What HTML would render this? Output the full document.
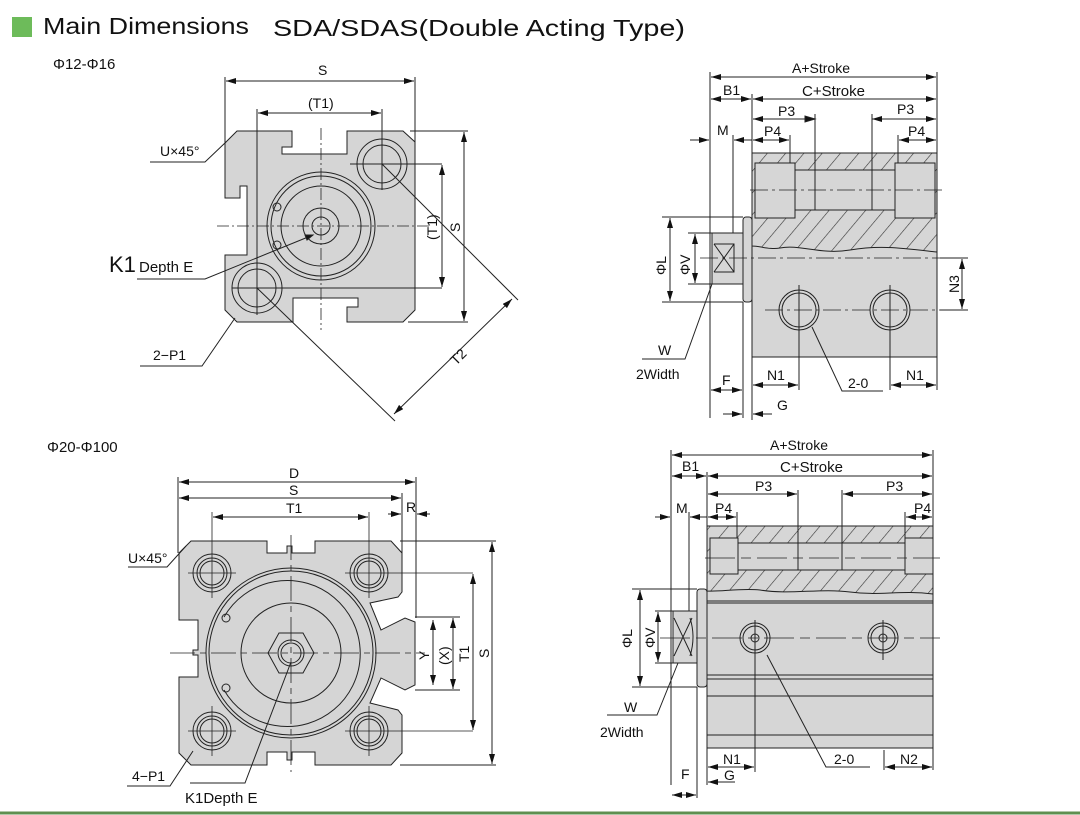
<!DOCTYPE html>
<html><head><meta charset="utf-8"><style>
html,body{margin:0;padding:0;background:#fff;width:1080px;height:815px;overflow:hidden}
svg{display:block}
text{font-family:"Liberation Sans",sans-serif;fill:#111}
.d{font-size:14px}
</style></head><body>
<svg width="1080" height="815" viewBox="0 0 1080 815" xmlns="http://www.w3.org/2000/svg">
<defs>
<marker id="a" viewBox="0 0 10 6" refX="10" refY="3" markerWidth="10" markerHeight="6" orient="auto-start-reverse" markerUnits="userSpaceOnUse"><path d="M0,0L10,3L0,6z" fill="#111"/></marker>
<pattern id="h" width="14" height="14" patternUnits="userSpaceOnUse" patternTransform="rotate(40)"><rect width="14" height="14" fill="#d6d6d6"/><line x1="0" y1="0" x2="0" y2="14" stroke="#333" stroke-width="1.2"/></pattern>
</defs>

<!-- title -->
<rect x="12" y="17" width="20" height="20" fill="#6dbb5a"/>
<text x="43" y="34" font-size="23" textLength="206" lengthAdjust="spacingAndGlyphs">Main Dimensions</text>
<text x="273" y="36" font-size="23" textLength="412" lengthAdjust="spacingAndGlyphs">SDA/SDAS(Double  Acting  Type)</text>
<text x="53" y="69" font-size="15">Φ12-Φ16</text>
<text x="47" y="452" font-size="15">Φ20-Φ100</text>
<line x1="0" y1="813" x2="1080" y2="813" stroke="#5f8f50" stroke-width="3"/>

<g stroke="#222" stroke-width="1" fill="none">
<!-- ========== TOP LEFT ========== -->
<path d="M237,131 L292,131 L292,147 L282,147 L282,154 L347,154 L347,131 L403,131 L415,142 L415,310 L403,322 L347,322 L347,307 L358,307 L358,298 L293,298 L293,322 L237,322 L225,310 L225,255 L247,255 L247,186 L240,186 L240,198 L225,198 L225,143 Z" fill="#d5d5d5"/>
<circle cx="321" cy="226" r="54"/><circle cx="321" cy="226" r="50"/><circle cx="321" cy="226" r="40"/>
<circle cx="321" cy="226" r="18"/><circle cx="321" cy="226" r="9"/>
<circle cx="277" cy="207" r="4"/><circle cx="277" cy="245" r="4"/>
<circle cx="382" cy="164" r="25"/><circle cx="382" cy="164" r="19"/>
<circle cx="257" cy="288" r="25"/><circle cx="257" cy="288" r="19"/>
<g stroke-dasharray="12,3,2,3" stroke-width="0.8">
<line x1="217" y1="226" x2="430" y2="226"/><line x1="321" y1="128" x2="321" y2="330"/>
</g>
<line x1="350" y1="164" x2="442" y2="164"/><line x1="382" y1="140" x2="382" y2="190"/>
<line x1="232" y1="288" x2="442" y2="288"/><line x1="257" y1="262" x2="257" y2="315"/>
<!-- dims -->
<line x1="225" y1="77" x2="225" y2="143"/><line x1="415" y1="77" x2="415" y2="142"/>
<line x1="226" y1="81" x2="414" y2="81" marker-start="url(#a)" marker-end="url(#a)"/>
<line x1="257" y1="109" x2="257" y2="305"/><line x1="382" y1="109" x2="382" y2="140"/>
<line x1="258" y1="113" x2="381" y2="113" marker-start="url(#a)" marker-end="url(#a)"/>
<line x1="442" y1="165" x2="442" y2="287" marker-start="url(#a)" marker-end="url(#a)"/>
<line x1="410" y1="131" x2="468" y2="131"/><line x1="408" y1="322" x2="468" y2="322"/>
<line x1="464" y1="132" x2="464" y2="321" marker-start="url(#a)" marker-end="url(#a)"/>
<line x1="382" y1="164" x2="518" y2="300"/><line x1="257" y1="288" x2="395" y2="421"/>
<line x1="512" y1="299" x2="394" y2="414" marker-start="url(#a)" marker-end="url(#a)"/>
<polyline points="150,162 205,162 226,142"/>
<polyline points="137,279 205,279 313,235" /><path d="M313,235 l-8,0 l2,5 z" fill="#111"/>
<polyline points="140,366 202,366 235,318"/>
</g>
<text x="318" y="75" class="d">S</text>
<text x="308" y="108" class="d">(T1)</text>
<text x="160" y="156" class="d">U×45°</text>
<text x="109" y="272" font-size="22">K1</text><text x="139" y="272" font-size="15">Depth E</text>
<text x="153" y="360" class="d">2−P1</text>
<text class="d" transform="translate(437,240) rotate(-90)">(T1)</text>
<text class="d" transform="translate(460,232) rotate(-90)">S</text>
<text class="d" transform="translate(456,366) rotate(-45)">T2</text>

<!-- ========== TOP RIGHT ========== -->
<g stroke="#222" stroke-width="1" fill="none">
<rect x="752" y="153" width="185" height="204" fill="#d6d6d6"/>
<path d="M752,153 H937 V252 C900,248 880,245 850,250 C820,255 800,244 780,248 C770,250 760,246 752,246 Z" fill="url(#h)"/>
<rect x="755" y="163" width="40" height="55" fill="#d6d6d6"/>
<rect x="795" y="170" width="100" height="40" fill="#d6d6d6"/>
<rect x="895" y="163" width="40" height="55" fill="#d6d6d6"/>
<line x1="815" y1="170" x2="815" y2="210"/><line x1="872" y1="170" x2="872" y2="210"/>
<rect x="743" y="217" width="9" height="85" rx="3" fill="#d6d6d6"/>
<rect x="712" y="233" width="31" height="51" fill="#d6d6d6"/>
<path d="M714,244 L734,272 M734,244 L714,272 M714,244 H734 V272 H714"/>
<circle cx="799" cy="310" r="20"/><circle cx="799" cy="310" r="17"/>
<circle cx="890" cy="310" r="20"/><circle cx="890" cy="310" r="17"/>
<g stroke-dasharray="18,4,3,4" stroke-width="0.8">
<line x1="750" y1="190" x2="945" y2="190"/><line x1="700" y1="258" x2="945" y2="258"/>
<line x1="765" y1="310" x2="945" y2="310"/>
</g>
<line x1="799" y1="285" x2="799" y2="390"/><line x1="890" y1="285" x2="890" y2="390"/>
<!-- dims -->
<line x1="710" y1="72" x2="710" y2="418"/><line x1="752" y1="94" x2="752" y2="420"/><line x1="937" y1="72" x2="937" y2="390"/>
<line x1="743" y1="302" x2="743" y2="418"/><line x1="733" y1="135" x2="733" y2="233"/>
<line x1="711" y1="77" x2="936" y2="77" marker-start="url(#a)" marker-end="url(#a)"/>
<line x1="711" y1="99" x2="751" y2="99" marker-start="url(#a)" marker-end="url(#a)"/>
<line x1="753" y1="99" x2="936" y2="99" marker-start="url(#a)" marker-end="url(#a)"/>
<line x1="815" y1="114" x2="815" y2="170"/><line x1="872" y1="114" x2="872" y2="170"/>
<line x1="753" y1="119" x2="815" y2="119" marker-start="url(#a)"/><line x1="815" y1="119" x2="815" y2="119"/>
<path d="M815,119 l-10,-3 v6z" fill="#111"/>
<line x1="872" y1="119" x2="936" y2="119" marker-start="url(#a)" marker-end="url(#a)"/>
<line x1="790" y1="135" x2="790" y2="163"/><line x1="898" y1="135" x2="898" y2="163"/>
<line x1="753" y1="140" x2="789" y2="140" marker-start="url(#a)" marker-end="url(#a)"/>
<line x1="899" y1="140" x2="936" y2="140" marker-start="url(#a)" marker-end="url(#a)"/>
<line x1="690" y1="140" x2="709" y2="140" marker-end="url(#a)"/><line x1="752" y1="140" x2="734" y2="140" marker-end="url(#a)"/>
<line x1="662" y1="217" x2="743" y2="217"/><line x1="662" y1="302" x2="743" y2="302"/>
<line x1="670" y1="218" x2="670" y2="301" marker-start="url(#a)" marker-end="url(#a)"/>
<line x1="688" y1="233" x2="712" y2="233"/><line x1="688" y1="284" x2="712" y2="284"/>
<line x1="695" y1="234" x2="695" y2="283" marker-start="url(#a)" marker-end="url(#a)"/>
<line x1="940" y1="258" x2="968" y2="258"/><line x1="940" y1="310" x2="968" y2="310"/>
<line x1="962" y1="259" x2="962" y2="309" marker-start="url(#a)" marker-end="url(#a)"/>
<line x1="753" y1="385" x2="798" y2="385" marker-start="url(#a)" marker-end="url(#a)"/>
<line x1="891" y1="385" x2="936" y2="385" marker-start="url(#a)" marker-end="url(#a)"/>
<line x1="711" y1="390" x2="742" y2="390" marker-start="url(#a)" marker-end="url(#a)"/>
<line x1="723" y1="414" x2="742" y2="414" marker-end="url(#a)"/><line x1="772" y1="414" x2="753" y2="414" marker-end="url(#a)"/>
<polyline points="642,359 685,359 712,284"/>
<polyline points="883,391 842,391 812,327"/>
</g>
<text x="792" y="73" class="d">A+Stroke</text>
<text x="802" y="96" font-size="15">C+Stroke</text>
<text x="723" y="95" class="d">B1</text>
<text x="778" y="116" class="d">P3</text><text x="897" y="114" class="d">P3</text>
<text x="764" y="136" class="d">P4</text><text x="908" y="136" class="d">P4</text>
<text x="717" y="135" class="d">M</text>
<text class="d" transform="translate(666,275) rotate(-90)">ΦL</text>
<text class="d" transform="translate(690,275) rotate(-90)">ΦV</text>
<text class="d" transform="translate(959,293) rotate(-90)">N3</text>
<text x="658" y="355" class="d">W</text><text x="636" y="379" class="d">2Width</text>
<text x="722" y="385" class="d">F</text>
<text x="767" y="380" class="d">N1</text><text x="906" y="380" class="d">N1</text>
<text x="848" y="388" class="d">2-0</text>
<text x="777" y="410" class="d">G</text>

<!-- ========== BOTTOM LEFT ========== -->
<g stroke="#222" stroke-width="1" fill="none">
<path d="M191,541 L267,541 L267,553 L287,553 L287,546 L292,546 L292,553 L315,553 L315,541 L391,541 L402,553 L402,592 L398,597 L370,603 L381,630 L405,618 L415,622 L415,685 L405,690 L381,678 L370,703 L398,710 L402,715 L402,753 L391,765 L315,765 L315,752 L292,752 L292,760 L287,760 L287,752 L267,752 L267,765 L191,765 L179,753 L179,677 L198,677 L198,655 L193,655 L193,650 L198,650 L198,620 L179,620 L179,553 Z" fill="#d5d5d5"/>
<circle cx="291" cy="653" r="85"/><circle cx="291" cy="653" r="82"/>
<path d="M224,617 A73,73 0 1 1 224,690" /><path d="M224,617 a10,10 0 0 0 0,-0" />
<circle cx="291" cy="653" r="50"/>
<polygon points="268,653 279,633 303,633 314,653 303,673 279,673"/>
<circle cx="291" cy="653" r="13"/><circle cx="291" cy="653" r="10"/>
<circle cx="226" cy="618" r="4"/><circle cx="226" cy="688" r="4"/>
<g>
<circle cx="212" cy="573" r="19"/><circle cx="212" cy="573" r="15"/><circle cx="212" cy="573" r="12"/>
<circle cx="369" cy="573" r="19"/><circle cx="369" cy="573" r="15"/><circle cx="369" cy="573" r="12"/>
<circle cx="212" cy="731" r="19"/><circle cx="212" cy="731" r="15"/><circle cx="212" cy="731" r="12"/>
<circle cx="369" cy="731" r="19"/><circle cx="369" cy="731" r="15"/><circle cx="369" cy="731" r="12"/>
</g>
<g stroke-width="0.8">
<line x1="188" y1="573" x2="236" y2="573"/><line x1="345" y1="573" x2="473" y2="573"/>
<line x1="188" y1="731" x2="236" y2="731"/><line x1="345" y1="731" x2="473" y2="731"/>
<line x1="212" y1="512" x2="212" y2="598"/><line x1="212" y1="706" x2="212" y2="756"/>
<line x1="369" y1="512" x2="369" y2="598"/><line x1="369" y1="706" x2="369" y2="756"/>
<line x1="170" y1="653" x2="425" y2="653" stroke-dasharray="25,5,6,5"/>
<line x1="291" y1="535" x2="291" y2="772" stroke-dasharray="25,5,6,5"/>
</g>
<!-- dims -->
<line x1="178" y1="477" x2="178" y2="553"/><line x1="416" y1="477" x2="416" y2="618"/><line x1="402" y1="493" x2="402" y2="592"/>
<line x1="179" y1="482" x2="415" y2="482" marker-start="url(#a)" marker-end="url(#a)"/>
<line x1="179" y1="498" x2="401" y2="498" marker-start="url(#a)" marker-end="url(#a)"/>
<line x1="213" y1="517" x2="368" y2="517" marker-start="url(#a)" marker-end="url(#a)"/>
<line x1="388" y1="514" x2="401" y2="514" marker-end="url(#a)"/><line x1="430" y1="514" x2="417" y2="514" marker-end="url(#a)"/>
<line x1="400" y1="541" x2="496" y2="541"/><line x1="400" y1="765" x2="496" y2="765"/>
<line x1="415" y1="617" x2="460" y2="617"/><line x1="415" y1="690" x2="460" y2="690"/>
<line x1="433" y1="620" x2="433" y2="685" marker-start="url(#a)" marker-end="url(#a)"/>
<line x1="453" y1="618" x2="453" y2="689" marker-start="url(#a)" marker-end="url(#a)"/>
<line x1="473" y1="574" x2="473" y2="730" marker-start="url(#a)" marker-end="url(#a)"/>
<line x1="492" y1="542" x2="492" y2="764" marker-start="url(#a)" marker-end="url(#a)"/>
<polyline points="128,567 167,567 186,546"/>
<polyline points="127,786 170,786 193,751"/>
<polyline points="190,783 245,783 291,662"/>
</g>
<text x="289" y="478" class="d">D</text><text x="289" y="495" class="d">S</text>
<text x="286" y="513" class="d">T1</text><text x="406" y="512" class="d">R</text>
<text x="128" y="563" class="d">U×45°</text>
<text class="d" transform="translate(429,660) rotate(-90)">Y</text>
<text class="d" transform="translate(449,665) rotate(-90)">(X)</text>
<text class="d" transform="translate(469,662) rotate(-90)">T1</text>
<text class="d" transform="translate(489,658) rotate(-90)">S</text>
<text x="132" y="781" class="d">4−P1</text>
<text x="185" y="803" font-size="15">K1Depth E</text>

<!-- ========== BOTTOM RIGHT ========== -->
<g stroke="#222" stroke-width="1" fill="none">
<rect x="707" y="526" width="226" height="222" fill="#d6d6d6"/>
<path d="M707,526 H933 V594 C900,590 880,596 850,592 C820,588 790,595 760,590 C740,588 720,592 707,591 Z" fill="url(#h)"/>
<rect x="710" y="538" width="28" height="36" fill="#d6d6d6"/>
<rect x="738" y="543" width="172" height="27" fill="#d6d6d6"/>
<rect x="905" y="538" width="28" height="36" fill="#d6d6d6"/>
<line x1="798" y1="543" x2="798" y2="570"/><line x1="842" y1="543" x2="842" y2="570"/>
<line x1="707" y1="601" x2="933" y2="601"/><line x1="707" y1="603" x2="933" y2="603"/>
<line x1="707" y1="675" x2="933" y2="675"/><line x1="707" y1="679" x2="933" y2="679"/>
<line x1="707" y1="696" x2="933" y2="696"/><line x1="707" y1="735" x2="933" y2="735"/>
<rect x="697" y="589" width="10" height="98" rx="3" fill="#d6d6d6"/>
<rect x="673" y="611" width="24" height="52" fill="#d6d6d6"/>
<path d="M674,618 L692,656 M692,618 L674,656"/><path d="M690,618 Q696,637 690,656"/>
<circle cx="755" cy="638" r="15"/><circle cx="755" cy="638" r="12"/><circle cx="755" cy="638" r="4"/>
<circle cx="883" cy="638" r="15"/><circle cx="883" cy="638" r="12"/><circle cx="883" cy="638" r="4"/>
<g stroke-dasharray="30,6,10,6" stroke-width="0.8">
<line x1="705" y1="558" x2="940" y2="558"/><line x1="660" y1="638" x2="940" y2="638"/>
</g>
<line x1="755" y1="620" x2="755" y2="772"/><line x1="883" y1="620" x2="883" y2="660"/>
<!-- dims -->
<line x1="671" y1="450" x2="671" y2="785"/><line x1="707" y1="472" x2="707" y2="785"/><line x1="933" y1="450" x2="933" y2="770"/>
<line x1="697" y1="687" x2="697" y2="798"/><line x1="689" y1="512" x2="689" y2="611"/>
<line x1="672" y1="455" x2="932" y2="455" marker-start="url(#a)" marker-end="url(#a)"/>
<line x1="672" y1="476" x2="706" y2="476" marker-start="url(#a)" marker-end="url(#a)"/>
<line x1="708" y1="476" x2="932" y2="476" marker-start="url(#a)" marker-end="url(#a)"/>
<line x1="798" y1="490" x2="798" y2="543"/><line x1="842" y1="490" x2="842" y2="543"/>
<line x1="708" y1="494" x2="797" y2="494" marker-start="url(#a)" marker-end="url(#a)"/>
<line x1="843" y1="494" x2="932" y2="494" marker-start="url(#a)" marker-end="url(#a)"/>
<line x1="737" y1="512" x2="737" y2="538"/><line x1="905" y1="512" x2="905" y2="538"/>
<line x1="708" y1="517" x2="736" y2="517" marker-start="url(#a)" marker-end="url(#a)"/>
<line x1="906" y1="517" x2="932" y2="517" marker-start="url(#a)" marker-end="url(#a)"/>
<line x1="655" y1="517" x2="670" y2="517" marker-end="url(#a)"/><line x1="707" y1="517" x2="690" y2="517" marker-end="url(#a)"/>
<line x1="632" y1="589" x2="697" y2="589"/><line x1="632" y1="687" x2="697" y2="687"/>
<line x1="640" y1="590" x2="640" y2="686" marker-start="url(#a)" marker-end="url(#a)"/>
<line x1="655" y1="611" x2="673" y2="611"/><line x1="655" y1="663" x2="673" y2="663"/>
<line x1="658" y1="612" x2="658" y2="662" marker-start="url(#a)" marker-end="url(#a)"/>
<line x1="884" y1="750" x2="884" y2="770"/>
<line x1="708" y1="767" x2="754" y2="767" marker-start="url(#a)" marker-end="url(#a)"/>
<line x1="885" y1="767" x2="932" y2="767" marker-start="url(#a)" marker-end="url(#a)"/>
<line x1="708" y1="782" x2="735" y2="782" marker-start="url(#a)"/>
<line x1="672" y1="795" x2="696" y2="795" marker-start="url(#a)" marker-end="url(#a)"/>
<polyline points="607,715 657,715 678,663"/>
<polyline points="870,767 826,767 767,655"/>
</g>
<text x="770" y="450" class="d">A+Stroke</text>
<text x="780" y="472" font-size="15">C+Stroke</text>
<text x="682" y="471" class="d">B1</text>
<text x="755" y="491" class="d">P3</text><text x="886" y="491" class="d">P3</text>
<text x="676" y="513" class="d">M</text>
<text x="715" y="513" class="d">P4</text><text x="914" y="513" class="d">P4</text>
<text class="d" transform="translate(632,648) rotate(-90)">ΦL</text>
<text class="d" transform="translate(655,648) rotate(-90)">ΦV</text>
<text x="624" y="712" class="d">W</text><text x="600" y="737" class="d">2Width</text>
<text x="723" y="764" class="d">N1</text><text x="724" y="780" class="d">G</text>
<text x="681" y="779" class="d">F</text>
<text x="834" y="764" class="d">2-0</text><text x="900" y="764" class="d">N2</text>
</svg>
</body></html>
